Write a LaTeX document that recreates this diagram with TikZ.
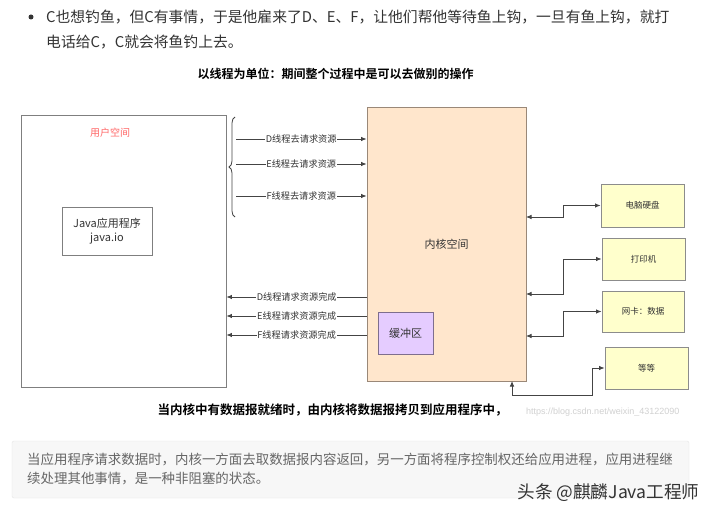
\documentclass[tikz,border=0pt]{standalone}
\usepackage{fontspec}
\newfontfamily\cjk{Noto Sans CJK SC}[BoldFont={Noto Sans CJK SC Bold}]
\newfontfamily\lsans{Liberation Sans}
\usetikzlibrary{arrows.meta,decorations.pathreplacing}
\definecolor{linec}{HTML}{444444}
\definecolor{boxgray}{HTML}{7F7F7F}
\definecolor{kfill}{HTML}{FFE6CC}
\definecolor{kdraw}{HTML}{9A8878}
\definecolor{bfill}{HTML}{E5CCFF}
\definecolor{bdraw}{HTML}{7E6E8E}
\definecolor{yfill}{HTML}{FFFFCC}
\definecolor{ydraw}{HTML}{8C8C8C}
\definecolor{txt}{HTML}{333333}
\definecolor{redt}{HTML}{FF6666}
\definecolor{notefill}{HTML}{F7F7F7}
\definecolor{notedraw}{HTML}{E6E6E6}
\definecolor{notetxt}{HTML}{666666}
\begin{document}
\begin{tikzpicture}[x=1pt,y=-1pt,font=\cjk,
  box/.style={draw=boxgray,line width=0.9pt,inner sep=0pt},
  kbox/.style={draw=kdraw,fill=kfill,line width=0.9pt,inner sep=0pt},
  bbox/.style={draw=bdraw,fill=bfill,line width=0.9pt,inner sep=0pt},
  ybox/.style={draw=ydraw,fill=yfill,line width=0.9pt,inner sep=0pt,font=\cjk\fontsize{8.5}{10}\selectfont,text=txt},
  arr/.style={draw=linec,line width=0.8pt,-{Latex[length=5.5pt,width=4.5pt]}},
  darr/.style={draw=linec,line width=0.8pt,{Latex[length=5.5pt,width=4.5pt]}-{Latex[length=5.5pt,width=4.5pt]}},
  lab/.style={fill=white,inner sep=0.8pt,text=txt,font=\cjk\fontsize{9.2}{10}\selectfont}]
\useasboundingbox[fill=white] (0,0) rectangle (720,516);

% top text
\fill[txt] (31,17) circle (2.5);
\node[anchor=west,inner sep=0pt,text=txt,font=\cjk\fontsize{14.8}{16}\selectfont] (l1) at (46,17) {C也想钓鱼，但C有事情，于是他雇来了D、E、F，让他们帮他等待鱼上钩，一旦有鱼上钩，就打};
\node[anchor=west,inner sep=0pt,text=txt,font=\cjk\fontsize{14.8}{16}\selectfont] (l2) at (46,42) {电话给C，C就会将鱼钓上去。};
\node[inner sep=0pt,text=black,font=\cjk\bfseries\fontsize{12}{14}\selectfont] (title) at (335.5,74) {以线程为单位：期间整个过程中是可以去做别的操作};

% user space
\node[box,minimum width=205pt,minimum height=272pt] (user) at (123.5,251) {};
\node[inner sep=0pt,text=redt,font=\cjk\fontsize{10}{12}\selectfont] (ulab) at (110,133) {用户空间};
\node[box,minimum width=90pt,minimum height=48pt,align=center,text=txt,font=\cjk\fontsize{11}{13.5}\selectfont] (java) at (107,231) {Java应用程序\\java.io};

% kernel
\node[kbox,minimum width=159pt,minimum height=274pt,text=txt,font=\cjk\fontsize{11}{13}\selectfont] (kern) at (446.5,244) {内核空间};
\node[bbox,minimum width=55pt,minimum height=42pt,text=txt,font=\cjk\fontsize{11}{13}\selectfont] (buf) at (405.5,333) {缓冲区};

% devices
\node[ybox,minimum width=83pt,minimum height=43pt] (hd) at (642.5,205.5) {电脑硬盘};
\node[ybox,minimum width=83pt,minimum height=42pt] (pr) at (643.5,259) {打印机};
\node[ybox,minimum width=82pt,minimum height=41pt] (nic) at (643,311.5) {网卡：数据};
\node[ybox,minimum width=83pt,minimum height=42pt] (etc) at (646.5,368) {等等};

% brace
\draw[draw=linec,line width=0.8pt,decorate,decoration={brace,amplitude=6pt}] (235,217) -- (235,117);

% requests
\coordinate (ds) at (236,139);
\coordinate (es) at (236,164);
\coordinate (fs) at (236,196);
\draw[arr] (ds) -- (ds -| kern.west) node[lab,midway] {D线程去请求资源};
\draw[arr] (es) -- (es -| kern.west) node[lab,midway] {E线程去请求资源};
\draw[arr] (fs) -- (fs -| kern.west) node[lab,midway] {F线程去请求资源};

% completions
\coordinate (dr) at (367,297);
\coordinate (er) at (367,316);
\coordinate (fr) at (367,335);
\draw[arr] (dr) -- (dr -| user.east) node[lab,midway] {D线程请求资源完成};
\draw[arr] (er) -- (er -| user.east) node[lab,midway] {E线程请求资源完成};
\draw[arr] (fr) -- (fr -| user.east) node[lab,midway] {F线程请求资源完成};

% device connectors
\coordinate (k1) at (526,217);
\coordinate (k2) at (526,294);
\coordinate (k3) at (526,336);
\coordinate (k4) at (512,381);
\draw[darr] (k1) -- (563,217) |- (hd.west);
\draw[darr] (k2) -- (563,294) |- (pr.west);
\draw[darr] (k3) -- (563,336) |- (nic.west);
\draw[darr] (k4) -- (512,395) -- (592,395) |- (etc.west);

% caption
\node[inner sep=0pt,text=black,font=\cjk\bfseries\fontsize{12.5}{14}\selectfont] (cap) at (332.5,410) {当内核中有数据报就绪时，由内核将数据报拷贝到应用程序中，};
\node[anchor=west,inner sep=0pt,text=black!18,font=\lsans\fontsize{9}{10}\selectfont] (url) at (526,412) {https://blog.csdn.net/weixin\_43122090};

% note box
\node[draw=notedraw,fill=notefill,rounded corners=2pt,minimum width=677pt,minimum height=57pt,inner sep=0pt] (note) at (350.5,469.5) {};
\node[anchor=west,inner sep=0pt,text=notetxt,font=\cjk\fontsize{13.45}{16}\selectfont] (n1) at (27,460) {当应用程序请求数据时，内核一方面去取数据报内容返回，另一方面将程序控制权还给应用进程，应用进程继};
\node[anchor=west,inner sep=0pt,text=notetxt,font=\cjk\fontsize{13.45}{16}\selectfont] (n2) at (27,479) {续处理其他事情，是一种非阻塞的状态。};

% watermark
\node[inner sep=0pt,text=txt,font=\cjk\fontsize{17.6}{19}\selectfont] (wm) at (608.5,493) {头条 @麒麟Java工程师};
\end{tikzpicture}
\end{document}
